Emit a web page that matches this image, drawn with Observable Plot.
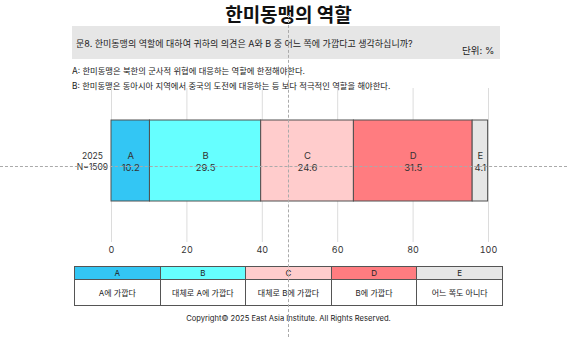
<!DOCTYPE html>
<html><head><meta charset="utf-8">
<script src="https://cdn.jsdelivr.net/npm/d3@7"></script>
<script src="https://cdn.jsdelivr.net/npm/@observablehq/plot@0.6"></script>
<style>
  html,body{margin:0;padding:0;background:#fff;}
  body{width:567px;height:337px;position:relative;overflow:hidden;font-family:Inter,"Noto Sans CJK KR",sans-serif;color:#222;}
  .abs{position:absolute;white-space:nowrap;}
  #title{left:0;width:577px;top:0px;text-align:center;font-size:19px;font-weight:700;font-family:"Noto Sans CJK KR",sans-serif;color:#111;}
  #qbox{left:72px;top:26px;width:428px;height:33px;background:#e6e6e6;}
  #q{left:76px;top:37px;font-size:9px;}
  #unit{left:462px;top:43px;font-size:9.5px;}
  #ta{left:72px;top:64px;font-size:8.3px;}
  #tb{left:72px;top:79px;font-size:8.3px;}
  #chart{left:0;top:88px;}
  #legend{left:74px;top:266px;border-collapse:collapse;table-layout:fixed;width:429px;font-size:8px;}
  #legend td{border:1px solid #555;text-align:center;padding:0;}
  #legend tr.h td{height:12px;}
  #legend tr.d td{height:25px;background:#fff;}
  #copy{left:0;width:577px;top:314px;text-align:center;font-size:7.6px;}
  .hd{left:0;top:165.5px;width:567px;border-top:1px dashed #aaa;height:0;}
  .vd{left:288px;top:15px;height:322px;border-left:1px dashed #aaa;width:0;}
</style></head>
<body>
<div id="title" class="abs">한미동맹의 역할</div>
<div id="qbox" class="abs"></div>
<div id="q" class="abs">문8. 한미동맹의 역할에 대하여 귀하의 의견은 A와 B 중 어느 쪽에 가깝다고 생각하십니까?</div>
<div id="unit" class="abs">단위: %</div>
<div id="ta" class="abs">A: 한미동맹은 북한의 군사적 위협에 대응하는 역할에 한정해야한다.</div>
<div id="tb" class="abs">B: 한미동맹은 동아시아 지역에서 중국의 도전에 대응하는 등 보다 적극적인 역할을 해야한다.</div>
<div id="chart" class="abs"></div>
<table id="legend" class="abs"><tbody><tr class="h"></tr><tr class="d"></tr></tbody></table>
<div id="copy" class="abs">Copyright© 2025 East Asia Institute. All Rights Reserved.</div>
<div class="abs hd"></div>
<div class="abs vd"></div>
<script>
const years = ["2025"];
const sampleSizes = ["N=1509"];
const categories = ["A", "B", "C", "D", "E"];
const values = [10.2, 29.5, 24.6, 31.5, 4.1];
const colors = ["#33c6f4", "#66ffff", "#ffcccc", "#ff7c80", "#e6e6e6"];
const descriptions = ["A에 가깝다", "대체로 A에 가깝다", "대체로 B에 가깝다", "B에 가깝다", "어느 쪽도 아니다"];
const xTicks = [0, 20, 40, 60, 80, 100];

const data = categories.map((c, i) => ({year: years[0], cat: c, value: values[i]}));
const yearLabels = years.map((y, i) => ({year: y, label: `${y}\n${sampleSizes[i]}`}));

const chart = Plot.plot({
  width: 567, height: 176,
  marginLeft: 111, marginRight: 79, marginTop: 0, marginBottom: 22,
  style: {fontFamily: "Inter, 'Noto Sans CJK KR', sans-serif", fontSize: "9px", color: "#333", background: "transparent", overflow: "visible"},
  x: {domain: [0, 100]},
  y: {domain: years, range: [32, 113], padding: 0, axis: null},
  color: {domain: categories, range: colors},
  marks: [
    Plot.ruleX(xTicks, {x: d => d, stroke: "#dcdcdc", strokeWidth: 1}),
    Plot.axisX({ticks: xTicks, tickSize: 0, tickPadding: 4, label: null, fontSize: 9, fill: "#333"}),
    Plot.barX(data, Plot.stackX({x: "value", y: "year", fill: "cat", stroke: "#505050", strokeWidth: 1})),
    Plot.text(data, Plot.stackX({x: "value", y: "year", z: "cat", text: d => `${d.cat}\n${d.value}`, fill: "#333", fontSize: 9.5, lineHeight: 1.25})),
    Plot.text(yearLabels, {x: 0, y: "year", text: "label", dx: -19, textAnchor: "middle", fill: "#333", fontSize: 8.5, lineHeight: 1.25})
  ]
});
document.getElementById("chart").appendChild(chart);

const hr = document.querySelector("#legend tr.h");
const dr = document.querySelector("#legend tr.d");
categories.forEach((c, i) => {
  const h = document.createElement("td"); h.textContent = c; h.style.background = colors[i]; hr.appendChild(h);
  const d = document.createElement("td"); d.textContent = descriptions[i]; dr.appendChild(d);
});
</script>
</body></html>
